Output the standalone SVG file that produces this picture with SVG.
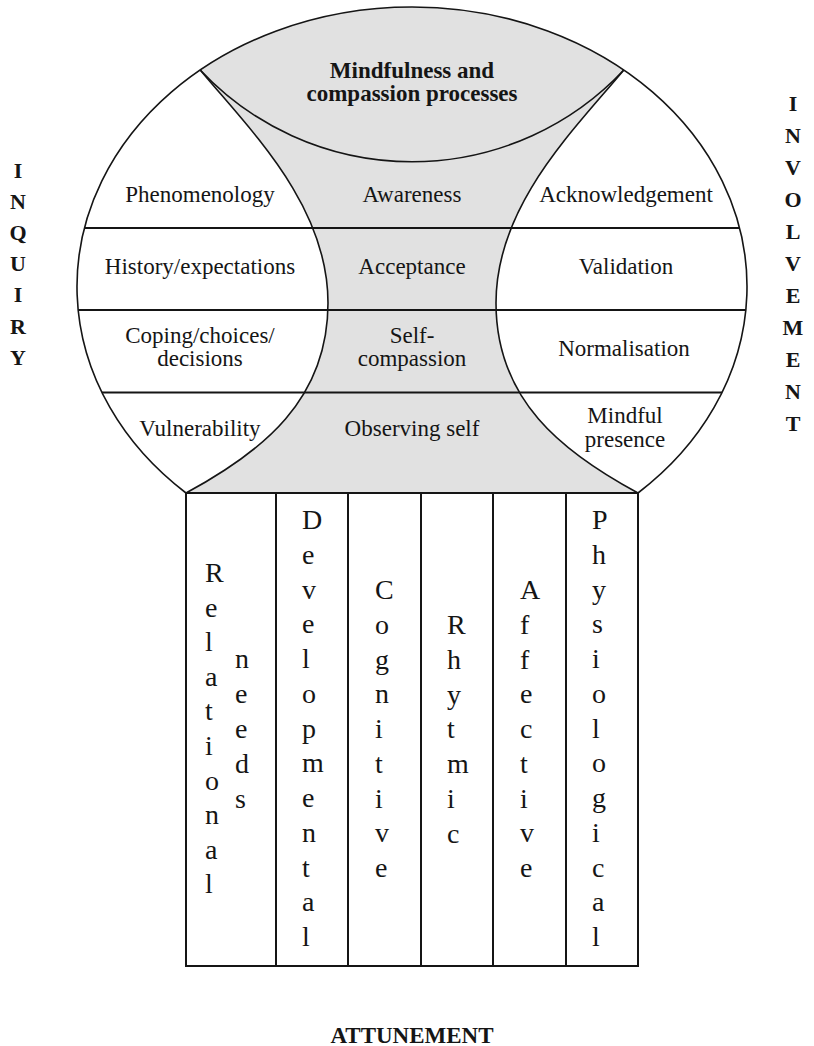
<svg xmlns="http://www.w3.org/2000/svg" width="814" height="1046" viewBox="0 0 814 1046">
<style>
.ln{fill:none;stroke:#151515;stroke-width:1.6}
.hl{fill:none;stroke:#151515;stroke-width:2}
.t{font-family:"Liberation Serif","Times New Roman",serif;font-size:23px;fill:#151515;text-anchor:middle}
.b{font-family:"Liberation Serif","Times New Roman",serif;font-size:23px;font-weight:bold;fill:#151515;text-anchor:middle}
.s{font-family:"Liberation Serif","Times New Roman",serif;font-size:22px;font-weight:bold;fill:#151515;text-anchor:middle}
.c{font-family:"Liberation Serif","Times New Roman",serif;font-size:28px;fill:#151515}
</style>
<rect width="814" height="1046" fill="#ffffff"/>
<g id="shapes">
<path id="gray-core" d="M200.2,70 A335,279.6 0 0 1 623.8,70 C574,130 496,205 496,303 C496,400 562,452 638,493 L186,493 C262,452 328,400 328,303 C328,205 250,130 200.2,70 Z" fill="#e1e1e1" stroke="none"/>
<path id="outer" class="ln" d="M186,493 A335,279.6 0 1 1 638,493"/>
<path id="lens" class="ln" d="M200.2,70 A290.3,290.3 0 0 0 623.8,70"/>
<path id="inner-left" class="ln" d="M200.2,70 C250,130 328,205 328,303 C328,400 262,452 186,493"/>
<path id="inner-right" class="ln" d="M623.8,70 C574,130 496,205 496,303 C496,400 562,452 638,493"/>
</g>
<g id="connectors">
<line class="hl" x1="84.4" y1="228" x2="739.6" y2="228"/>
<line class="hl" x1="78.2" y1="310" x2="745.8" y2="310"/>
<line class="hl" x1="102" y1="392.5" x2="722" y2="392.5"/>
<rect class="hl" x="186" y="493" width="452" height="473"/>
<line class="hl" x1="276" y1="493" x2="276" y2="966"/>
<line class="hl" x1="348" y1="493" x2="348" y2="966"/>
<line class="hl" x1="421" y1="493" x2="421" y2="966"/>
<line class="hl" x1="493" y1="493" x2="493" y2="966"/>
<line class="hl" x1="566" y1="493" x2="566" y2="966"/>
</g>
<g id="title"><text class="b" x="412" y="78">Mindfulness and</text><text class="b" x="412" y="101">compassion processes</text></g>
<g id="phenomenology"><text class="t" x="200" y="202">Phenomenology</text></g>
<g id="awareness"><text class="t" x="412" y="202">Awareness</text></g>
<g id="acknowledgement"><text class="t" x="626" y="202">Acknowledgement</text></g>
<g id="history"><text class="t" x="200" y="274">History/expectations</text></g>
<g id="acceptance"><text class="t" x="412" y="274">Acceptance</text></g>
<g id="validation"><text class="t" x="626" y="274">Validation</text></g>
<g id="coping"><text class="t" x="200" y="343">Coping/choices/</text><text class="t" x="200" y="366">decisions</text></g>
<g id="self-compassion"><text class="t" x="412" y="343">Self-</text><text class="t" x="412" y="366">compassion</text></g>
<g id="normalisation"><text class="t" x="624" y="356">Normalisation</text></g>
<g id="vulnerability"><text class="t" x="200" y="436">Vulnerability</text></g>
<g id="observing-self"><text class="t" x="412" y="436">Observing self</text></g>
<g id="mindful-presence"><text class="t" x="625" y="423">Mindful</text><text class="t" x="625" y="447">presence</text></g>
<g id="inquiry"><text class="s" x="18" y="177.5">I<tspan x="18" dy="31.2">N</tspan><tspan x="18" dy="31.2">Q</tspan><tspan x="18" dy="31.2">U</tspan><tspan x="18" dy="31.2">I</tspan><tspan x="18" dy="31.2">R</tspan><tspan x="18" dy="31.2">Y</tspan></text></g>
<g id="involvement"><text class="s" x="793" y="110.5">I<tspan x="793" dy="32">N</tspan><tspan x="793" dy="32">V</tspan><tspan x="793" dy="32">O</tspan><tspan x="793" dy="32">L</tspan><tspan x="793" dy="32">V</tspan><tspan x="793" dy="32">E</tspan><tspan x="793" dy="32">M</tspan><tspan x="793" dy="32">E</tspan><tspan x="793" dy="32">N</tspan><tspan x="793" dy="32">T</tspan></text></g>
<g id="attunement"><text class="b" x="412" y="1043">ATTUNEMENT</text></g>
<g id="col-relational-needs"><text class="c" x="205" y="582">R<tspan x="205" dy="34.6">e</tspan><tspan x="205" dy="34.6">l</tspan><tspan x="205" dy="34.6">a</tspan><tspan x="205" dy="34.6">t</tspan><tspan x="205" dy="34.6">i</tspan><tspan x="205" dy="34.6">o</tspan><tspan x="205" dy="34.6">n</tspan><tspan x="205" dy="34.6">a</tspan><tspan x="205" dy="34.6">l</tspan></text><text class="c" x="235" y="668">n<tspan x="235" dy="35">e</tspan><tspan x="235" dy="35">e</tspan><tspan x="235" dy="35">d</tspan><tspan x="235" dy="35">s</tspan></text></g>
<g id="col-developmental"><text class="c" x="302" y="529">D<tspan x="302" dy="34.75">e</tspan><tspan x="302" dy="34.75">v</tspan><tspan x="302" dy="34.75">e</tspan><tspan x="302" dy="34.75">l</tspan><tspan x="302" dy="34.75">o</tspan><tspan x="302" dy="34.75">p</tspan><tspan x="302" dy="34.75">m</tspan><tspan x="302" dy="34.75">e</tspan><tspan x="302" dy="34.75">n</tspan><tspan x="302" dy="34.75">t</tspan><tspan x="302" dy="34.75">a</tspan><tspan x="302" dy="34.75">l</tspan></text></g>
<g id="col-cognitive"><text class="c" x="375" y="599">C<tspan x="375" dy="34.75">o</tspan><tspan x="375" dy="34.75">g</tspan><tspan x="375" dy="34.75">n</tspan><tspan x="375" dy="34.75">i</tspan><tspan x="375" dy="34.75">t</tspan><tspan x="375" dy="34.75">i</tspan><tspan x="375" dy="34.75">v</tspan><tspan x="375" dy="34.75">e</tspan></text></g>
<g id="col-rhythmic"><text class="c" x="447" y="634">R<tspan x="447" dy="34.8">h</tspan><tspan x="447" dy="34.8">y</tspan><tspan x="447" dy="34.8">t</tspan><tspan x="447" dy="34.8">m</tspan><tspan x="447" dy="34.8">i</tspan><tspan x="447" dy="34.8">c</tspan></text></g>
<g id="col-affective"><text class="c" x="520" y="599">A<tspan x="520" dy="34.75">f</tspan><tspan x="520" dy="34.75">f</tspan><tspan x="520" dy="34.75">e</tspan><tspan x="520" dy="34.75">c</tspan><tspan x="520" dy="34.75">t</tspan><tspan x="520" dy="34.75">i</tspan><tspan x="520" dy="34.75">v</tspan><tspan x="520" dy="34.75">e</tspan></text></g>
<g id="col-physiological"><text class="c" x="592" y="529">P<tspan x="592" dy="34.75">h</tspan><tspan x="592" dy="34.75">y</tspan><tspan x="592" dy="34.75">s</tspan><tspan x="592" dy="34.75">i</tspan><tspan x="592" dy="34.75">o</tspan><tspan x="592" dy="34.75">l</tspan><tspan x="592" dy="34.75">o</tspan><tspan x="592" dy="34.75">g</tspan><tspan x="592" dy="34.75">i</tspan><tspan x="592" dy="34.75">c</tspan><tspan x="592" dy="34.75">a</tspan><tspan x="592" dy="34.75">l</tspan></text></g>
</svg>
